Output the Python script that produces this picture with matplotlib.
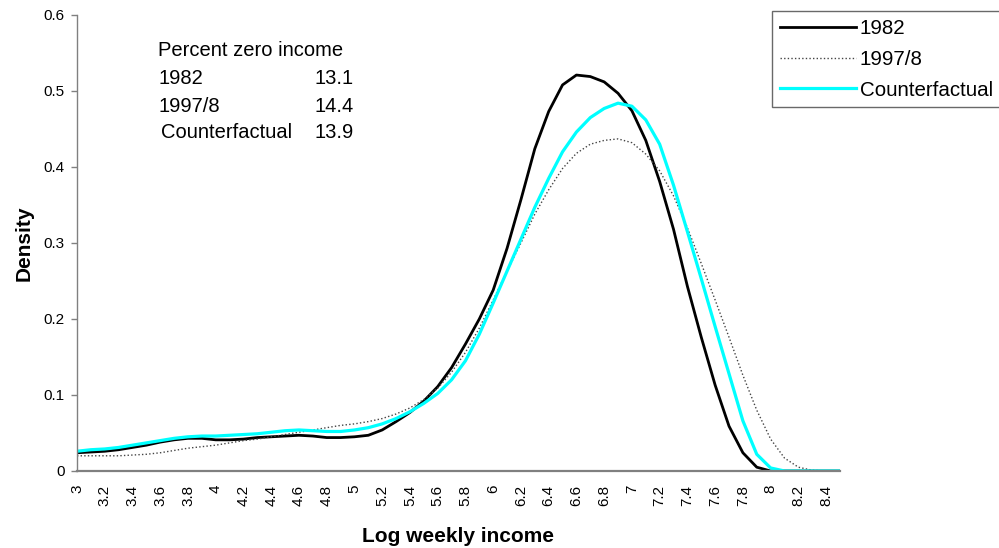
import numpy as np
import matplotlib
matplotlib.use("Agg")
import matplotlib.pyplot as plt
from matplotlib.ticker import FuncFormatter, MultipleLocator

plt.rcParams["font.family"] = ["Liberation Sans", "DejaVu Sans"]

# log weekly income grid, 0.1 steps
log_income = np.round(np.arange(3.0, 8.51, 0.1), 1)

dens_1982 = [
    0.024, 0.025, 0.026, 0.028, 0.031, 0.034, 0.038, 0.041, 0.043, 0.043,
    0.041, 0.041, 0.042, 0.044, 0.045, 0.046, 0.047, 0.046, 0.044, 0.044,
    0.045, 0.047, 0.054, 0.065, 0.077, 0.092, 0.111, 0.136, 0.167, 0.200,
    0.238, 0.293, 0.357, 0.424, 0.473, 0.508, 0.521, 0.519, 0.512, 0.497,
    0.474, 0.435, 0.381, 0.318, 0.243, 0.176, 0.113, 0.059, 0.024, 0.005,
    0.000, 0.000, 0.000, 0.000, 0.000, 0.000,
]

dens_1997 = [
    0.020, 0.020, 0.020, 0.020, 0.021, 0.022, 0.024, 0.027, 0.030, 0.032,
    0.034, 0.037, 0.040, 0.042, 0.045, 0.048, 0.051, 0.054, 0.057, 0.060,
    0.062, 0.065, 0.069, 0.075, 0.083, 0.094, 0.109, 0.130, 0.156, 0.188,
    0.225, 0.263, 0.300, 0.338, 0.370, 0.398, 0.418, 0.430, 0.435, 0.437,
    0.432, 0.417, 0.395, 0.362, 0.320, 0.273, 0.225, 0.176, 0.126, 0.080,
    0.042, 0.017, 0.005, 0.001, 0.000, 0.000,
]

dens_cf = [
    0.026, 0.028, 0.029, 0.031, 0.034, 0.037, 0.040, 0.043, 0.045, 0.046,
    0.046, 0.047, 0.048, 0.049, 0.051, 0.053, 0.054, 0.053, 0.052, 0.052,
    0.054, 0.057, 0.062, 0.069, 0.078, 0.089, 0.102, 0.120, 0.145, 0.180,
    0.221, 0.263, 0.305, 0.347, 0.385, 0.420, 0.446, 0.465, 0.477, 0.484,
    0.480, 0.462, 0.430, 0.376, 0.315, 0.253, 0.190, 0.128, 0.066, 0.022,
    0.004, 0.000, 0.000, 0.000, 0.000, 0.000,
]

zero_labels = ["1982", "1997/8", "Counterfactual"]
zero_pct = ["13.1", "14.4", "13.9"]

x_ticks = np.round(np.arange(3.0, 8.41, 0.2), 1)

fig = plt.figure(figsize=(9.99, 5.48), dpi=100)
ax = fig.add_axes([77 / 999, 1 - 471 / 548, (840 - 77) / 999, (471 - 15) / 548])

ax.plot(log_income, dens_1982, color="black", lw=2.0, label="1982",
        solid_joinstyle="round")
ax.plot(log_income, dens_1997, color="#444444", lw=1.0,
        linestyle=(0, (1, 1.6)), label="1997/8")
ax.plot(log_income, dens_cf, color="#00FFFF", lw=2.3, label="Counterfactual",
        solid_joinstyle="round")

ax.set_xlim(3.0, 8.5)
ax.set_ylim(0, 0.6)
ax.yaxis.set_major_locator(MultipleLocator(0.1))
ax.yaxis.set_major_formatter(FuncFormatter(lambda v, p: f"{v:g}"))
ax.set_xticks(x_ticks)
ax.set_xticklabels([f"{v:g}" for v in x_ticks], rotation=90)

for side in ("top", "right"):
    ax.spines[side].set_visible(False)
ax.spines["left"].set_color("#808080")
ax.spines["left"].set_linewidth(1.0)
ax.spines["bottom"].set_color("#808080")
ax.spines["bottom"].set_linewidth(1.6)

ax.tick_params(axis="y", direction="out", length=4, width=1, color="#808080",
               pad=5, labelsize=11)
ax.tick_params(axis="x", length=0, pad=10, labelsize=11)

ax.set_xlabel("Log weekly income", fontsize=15, fontweight="bold", labelpad=15)
ax.set_ylabel("Density", fontsize=15, fontweight="bold", labelpad=7)

# percent-zero-income table
fig.text(158 / 999, 1 - 50 / 548, "Percent zero income", fontsize=14.5,
         ha="left", va="center")
row_y = [78, 106, 132]
for lab, pct, y in zip(zero_labels, zero_pct, row_y):
    fig.text(158 / 999 if lab != "Counterfactual" else 161 / 999, 1 - y / 548,
             lab, fontsize=14.5, ha="left", va="center")
    fig.text(354 / 999, 1 - y / 548, pct, fontsize=14.5, ha="right", va="center")

leg = fig.legend(loc="upper left", bbox_to_anchor=(772 / 999, 1 - 11 / 548),
                 fontsize=14.8, frameon=True, fancybox=False, handlelength=3.7,
                 handletextpad=0.2, borderpad=0.38, labelspacing=0.58,
                 borderaxespad=0)
leg.get_frame().set_edgecolor("#444444")
leg.get_frame().set_linewidth(1.0)

fig.savefig("out.png", dpi=100)
